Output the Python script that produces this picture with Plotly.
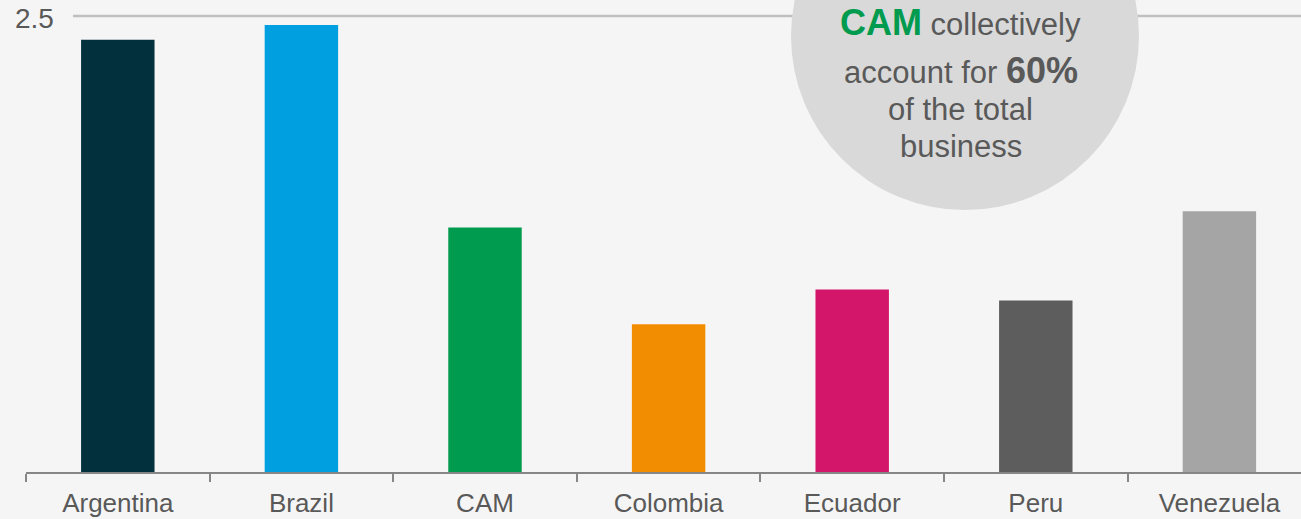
import plotly.graph_objects as go

# Business volume by country
countries = ["Argentina", "Brazil", "CAM", "Colombia", "Ecuador", "Peru", "Venezuela"]
values = [2.37, 2.45, 1.34, 0.81, 1.00, 0.94, 1.43]
bar_colors = ["#02303c", "#00a0e0", "#009b4e", "#f28c00", "#d4166a", "#5d5d5d", "#a5a5a5"]

y_tick_values = [2.5]
y_tick_labels = ["2.5"]

callout_lines = [
    "<b><span style='color:#009b4e;font-size:36px'>CAM</span></b> collectively",
    "account for <b><span style='font-size:36px'>60%</span></b>",
    "of the total",
    "business",
]

W, H = 1301, 519
M_L, M_R, M_T, M_B = 26, 0, 0, 47
plot_w = W - M_L - M_R
plot_h = H - M_T - M_B

text_color = "#595959"
font_family = "Arial, Liberation Sans, sans-serif"

def px_to_paper_x(px):
    return (px - M_L) / plot_w

def px_to_paper_y(py):
    return (H - M_B - py) / plot_h

fig = go.Figure(
    go.Bar(
        x=countries,
        y=values,
        marker=dict(color=bar_colors, line=dict(width=0)),
        width=0.4,
        hoverinfo="x+y",
    )
)

shapes = []
# horizontal reference line for the single y tick
for v in y_tick_values:
    shapes.append(dict(
        type="line", xref="paper", yref="y",
        x0=px_to_paper_x(73), x1=1.02, y0=v, y1=v,
        line=dict(color="#c0c0c0", width=2.5), layer="below",
    ))

# callout circle
cx, cy, r = 965, 36, 174
shapes.append(dict(
    type="circle", xref="paper", yref="paper",
    x0=px_to_paper_x(cx - r), x1=px_to_paper_x(cx + r),
    y0=px_to_paper_y(cy + r), y1=px_to_paper_y(cy - r),
    fillcolor="#d9d9d9", line=dict(width=0), layer="above",
))

annotations = []
for v, lab in zip(y_tick_values, y_tick_labels):
    annotations.append(dict(
        text=lab, xref="paper", yref="paper", x=px_to_paper_x(56), y=px_to_paper_y(18),
        xanchor="right", yanchor="middle", showarrow=False,
        font=dict(size=28, color=text_color, family=font_family),
    ))

line_centers = [23, 70, 109, 147]
for txt, yc in zip(callout_lines, line_centers):
    annotations.append(dict(
        text=txt, xref="paper", yref="paper",
        x=px_to_paper_x(961), y=px_to_paper_y(yc),
        xanchor="center", yanchor="middle", showarrow=False,
        font=dict(size=31, color=text_color, family=font_family),
    ))

fig.update_layout(
    width=W, height=H,
    margin=dict(l=M_L, r=M_R, t=M_T, b=M_B, pad=0),
    paper_bgcolor="#f5f5f5",
    plot_bgcolor="rgba(0,0,0,0)",
    showlegend=False,
    bargap=0.6,
    shapes=shapes,
    annotations=annotations,
    xaxis=dict(
        type="category",
        range=[-0.5, 6.5 - (M_L + 7 * 183.6 - W) / 183.6],
        showline=True, linecolor="#868686", linewidth=2,
        ticks="outside", tickson="boundaries", ticklen=8, tickwidth=2, tickcolor="#868686",
        ticklabelstandoff=7,
        tickfont=dict(size=26, color=text_color, family=font_family),
        showgrid=False, zeroline=False,
    ),
    yaxis=dict(
        range=[0, 472 / 182.4],
        showticklabels=False, showgrid=False, zeroline=False, showline=False,
        ticks="",
    ),
)

fig.write_html("out.html")
